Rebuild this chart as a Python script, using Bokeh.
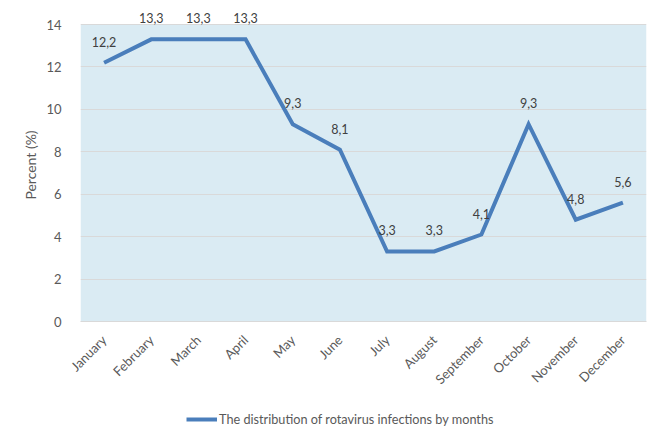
import math
from bokeh.plotting import figure
from bokeh.layouts import column
from bokeh.models import (ColumnDataSource, Legend, LegendItem, SingleIntervalTicker,
                          Range1d, LabelSet, BoxAnnotation)
from bokeh.core.properties import value
from bokeh.embed import file_html
from bokeh.resources import INLINE

months = ["January", "February", "March", "April", "May", "June", "July",
          "August", "September", "October", "November", "December"]
percent = [12.2, 13.3, 13.3, 13.3, 9.3, 8.1, 3.3, 3.3, 4.1, 9.3, 4.8, 5.6]
labels = ["12,2", "13,3", "13,3", "13,3", "9,3", "8,1", "3,3", "3,3", "4,1", "9,3", "4,8", "5,6"]
series_name = "The distribution of rotavirus infections by months"
y_axis_max = 14

FONT = "Lato"
TXT = "#595959"
LINE = "#4A7EBB"

src = ColumnDataSource(dict(m=months, v=percent, lab=labels))

p = figure(x_range=months, y_range=Range1d(0, 14.755), width=647, height=405,
           output_backend="svg", toolbar_location=None,
           min_border_left=80, min_border_right=1, min_border_top=8, min_border_bottom=84)
p.background_fill_color = "white"
p.border_fill_color = "white"
p.outline_line_color = None

# plot area background (0..14)
p.add_layout(BoxAnnotation(bottom=0, top=y_axis_max, fill_color="#DAEBF3", fill_alpha=1,
                           line_color=None, level="image"))

r = p.line("m", "v", source=src, line_color=LINE, line_width=4, line_join="miter")

p.add_layout(LabelSet(x="m", y="v", text="lab", source=src, y_offset=16,
                      text_align="center", text_baseline="bottom",
                      text_font=value(FONT), text_font_size="12.5px", text_color="#404040"))

p.yaxis.ticker = SingleIntervalTicker(interval=2)
p.yaxis.axis_line_color = None
p.yaxis.major_tick_line_color = None
p.yaxis.minor_tick_line_color = None
p.yaxis.major_label_standoff = 13
p.yaxis.major_label_text_font = FONT
p.yaxis.major_label_text_font_size = "13px"
p.yaxis.major_label_text_color = TXT
p.yaxis.axis_label = "Percent (%)"
p.yaxis.axis_label_text_font = FONT
p.yaxis.axis_label_text_font_size = "14px"
p.yaxis.axis_label_text_font_style = "normal"
p.yaxis.axis_label_text_color = TXT
p.yaxis.axis_label_standoff = 4

p.xaxis.axis_line_color = "#D9D9D9"
p.xaxis.major_tick_line_color = None
p.xaxis.minor_tick_line_color = None
p.xaxis.major_label_orientation = math.pi / 4
p.xaxis.major_label_standoff = 10
p.xaxis.major_label_text_font = FONT
p.xaxis.major_label_text_font_size = "13px"
p.xaxis.major_label_text_color = TXT

p.xgrid.grid_line_color = None
p.ygrid.grid_line_color = "#D9D9D9"
p.ygrid.grid_line_width = 1

# legend strip below the chart
lg = figure(width=647, height=25, x_range=Range1d(0, 1), y_range=Range1d(0, 1),
            output_backend="svg", toolbar_location=None,
            min_border_left=0, min_border_right=0, min_border_top=0, min_border_bottom=0)
lg.axis.visible = False
lg.grid.grid_line_color = None
lg.outline_line_color = None
lg.background_fill_color = "white"
lg.border_fill_color = "white"
dummy = lg.line(x=[5], y=[5], line_color=LINE, line_width=4)

legend = Legend(items=[LegendItem(label=series_name, renderers=[dummy])],
                location=(106, 1), padding=0, margin=0, spacing=0,
                glyph_width=31, glyph_height=20, label_height=20, label_standoff=2,
                label_text_font=FONT, label_text_font_size="12.7px", label_text_color=TXT,
                background_fill_alpha=0, border_line_color=None)
lg.add_layout(legend, "center")

layout = column(p, lg, spacing=0)
open("out.html", "w").write(file_html(layout, INLINE))
